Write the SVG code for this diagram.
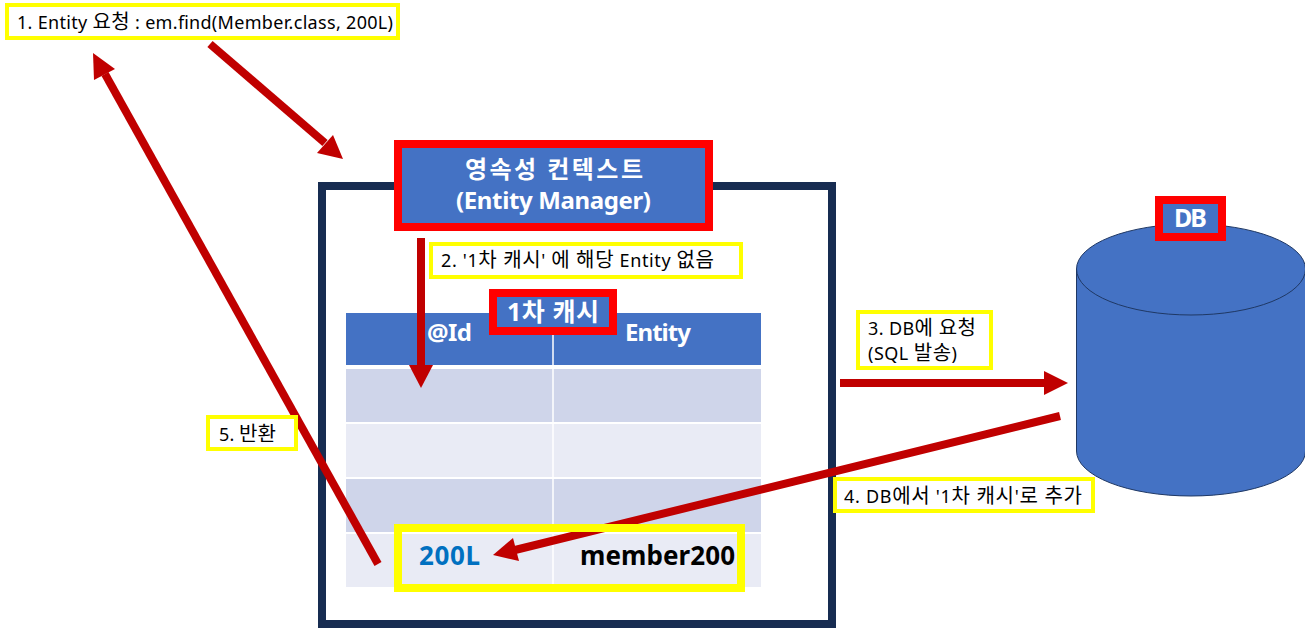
<svg xmlns="http://www.w3.org/2000/svg" width="1305" height="640" viewBox="0 0 1305 640">
<style>
text{font-family:"Noto Sans","Noto Sans CJK KR",sans-serif}
.lab{fill:#fff;stroke:#ff0;stroke-width:4}
.lt{font-size:18px;fill:#000}
.h{font-size:20px}
.red{stroke:#f00;stroke-width:8;fill:#4472C4}
.wt{font-size:24px;font-weight:700;fill:#fff}
.ar{stroke:#c00000;stroke-width:8;fill:none}
.hd{fill:#c00000;stroke:none}
.a{fill:#CFD5EA}.b{fill:#E9EBF5}
</style>
<g id="container"><rect x="322" y="186" width="510" height="438" fill="#fff" stroke="#172C51" stroke-width="8"/></g>
<g id="table">
<rect x="346" y="313" width="415" height="52" fill="#4472C4"/>
<rect class="a" x="346" y="369" width="415" height="53"/>
<rect class="b" x="346" y="424" width="415" height="53"/>
<rect class="a" x="346" y="479" width="415" height="53"/>
<rect class="b" x="346" y="534" width="415" height="53"/>
<path d="M553 313V587" stroke="#fff" stroke-width="1.500" fill="none"/>
<text class="wt" x="427" y="341" textLength="45">@Id</text>
<text class="wt" x="625" y="341" textLength="66">Entity</text>
</g>
<g id="db">
<path d="M1076.500 269V451A114.500 45 0 0 0 1305.500 451V269A114.500 45 0 0 0 1076.500 269Z" fill="#4472C4" stroke="#1F3864"/>
<path d="M1076.500 269A114.500 46 0 0 0 1305.500 269" fill="none" stroke="#1F3864"/>
</g>
<g id="connectors">
<path class="ar" d="M210 44L325 143"/><path class="hd" d="M343 159L317 153L333 135Z"/>
<path class="ar" d="M421 238V366"/><path class="hd" d="M421 388L409 365H433Z"/>
<path class="ar" d="M840 383H1046"/><path class="hd" d="M1068 383L1044 371V395Z"/>
<path class="ar" d="M1060 416L515 550"/><path class="hd" d="M493 555L513 538L519 561Z"/>
<path class="ar" d="M378 564L105 74"/><path class="hd" d="M93 53L115 69L94 80Z"/>
</g>
<g id="cache-entry">
<rect x="398" y="528" width="343" height="60" fill="none" stroke="#ff0" stroke-width="8"/>
<text x="419" y="565" font-size="26" font-weight="700" fill="#0070C0" textLength="61">200L</text>
<text x="580" y="565" font-size="26" font-weight="700" fill="#000" textLength="155">member200</text>
</g>
<g id="context"><rect class="red" x="398" y="144" width="311" height="83"/>
<text class="wt" x="465" y="178" textLength="178">영속성 컨텍스트</text>
<text class="wt" x="456" y="209" textLength="195">(Entity Manager)</text></g>
<g id="cache-title"><rect class="red" x="493" y="293" width="120" height="38"/><text class="wt" x="507" y="321" textLength="92" style="font-size:25px">1차 캐시</text></g>
<g id="db-label"><rect class="red" x="1159" y="200" width="63" height="37"/><text class="wt" x="1174" y="227" textLength="33" style="font-size:25px">DB</text></g>
<g id="step1"><rect class="lab" x="7" y="5" width="391" height="33"/><text class="lt" x="17" y="29" textLength="376">1. Entity <tspan class="h">요청</tspan> : em.find(Member.class, 200L)</text></g>
<g id="step2"><rect class="lab" x="431" y="244" width="310" height="33"/><text class="lt" x="441" y="267" textLength="273">2. '1<tspan class="h">차 캐시</tspan>' <tspan class="h">에 해당</tspan> Entity <tspan class="h">없음</tspan></text></g>
<g id="step3"><rect class="lab" x="858" y="312" width="133" height="56"/><text class="lt" x="868" y="335" textLength="108">3. DB<tspan class="h">에 요청</tspan></text><text class="lt" x="868" y="360" textLength="89">(SQL <tspan class="h">발송</tspan>)</text></g>
<g id="step4"><rect class="lab" x="835" y="479" width="258" height="32"/><text class="lt" x="844" y="503" textLength="238">4. DB<tspan class="h">에서</tspan> '1<tspan class="h">차 캐시</tspan>'<tspan class="h">로 추가</tspan></text></g>
<g id="step5"><rect class="lab" x="208" y="417" width="88" height="32"/><text class="lt" x="219" y="441" textLength="57">5. <tspan class="h">반환</tspan></text></g>
</svg>
